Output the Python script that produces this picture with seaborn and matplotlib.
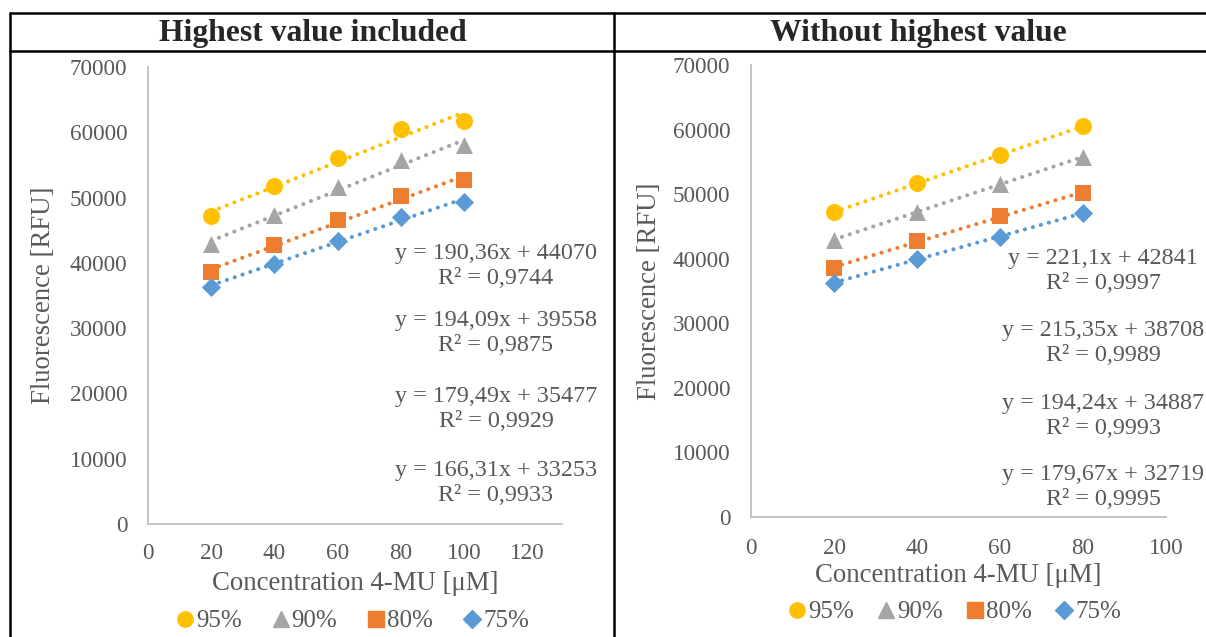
import numpy as np
import pandas as pd
import seaborn as sns
import matplotlib
matplotlib.use("Agg")
import matplotlib.pyplot as plt
from matplotlib.lines import Line2D

sns.set_style("white")
plt.rcParams['font.family'] = ['Liberation Serif', 'DejaVu Serif']

# ---- data ----
concentration = [20, 40, 60, 80, 100]
series_names = ["95%", "90%", "80%", "75%"]
fluor_95 = [47200, 51700, 56100, 60500, 61800]
fluor_90 = [42900, 47300, 51600, 55700, 58000]
fluor_80 = [38600, 42700, 46600, 50200, 52700]
fluor_75 = [36300, 39900, 43400, 47100, 49300]

eq_left = ["y = 190,36x + 44070\nR² = 0,9744",
           "y = 194,09x + 39558\nR² = 0,9875",
           "y = 179,49x + 35477\nR² = 0,9929",
           "y = 166,31x + 33253\nR² = 0,9933"]
eq_right = ["y = 221,1x + 42841\nR² = 0,9997",
            "y = 215,35x + 38708\nR² = 0,9989",
            "y = 194,24x + 34887\nR² = 0,9993",
            "y = 179,67x + 32719\nR² = 0,9995"]

titles = ["Highest value included", "Without highest value"]
xlabel = "Concentration 4-MU [μM]"
ylabel = "Fluorescence [RFU]"
yticks = [0, 10000, 20000, 30000, 40000, 50000, 60000, 70000]
xticks_left = [0, 20, 40, 60, 80, 100, 120]
xticks_right = [0, 20, 40, 60, 80, 100]

colors = ["#FFC000", "#A5A5A5", "#ED7D31", "#5B9BD5"]
markers = ["o", "^", "s", "D"]
msizes = [150, 150, 120, 95]

rows = []
for name, vals in zip(series_names, [fluor_95, fluor_90, fluor_80, fluor_75]):
    for c, v in zip(concentration, vals):
        rows.append({"conc": c, "fluor": v, "series": name})
df = pd.DataFrame(rows)
df_right = df[df["conc"] < max(concentration)]

fig = plt.figure(figsize=(12.06, 6.37), dpi=100)
W, H = 1206, 637

def fx(px):
    return px / W

def fy(py):
    return 1 - py / H

# table borders
for (x0, y0, x1, y1) in [(10, 13, 1206, 13), (10, 51, 1206, 51),
                         (10, 13, 10, 637), (614, 13, 614, 637)]:
    fig.add_artist(Line2D([fx(x0), fx(x1)], [fy(y0), fy(y1)], color="black", lw=1.8))

fig.text(fx(313), fy(33), titles[0], ha="center", va="center", fontsize=22.8, fontweight="bold")
fig.text(fx(918), fy(33), titles[1], ha="center", va="center", fontsize=22.8, fontweight="bold")

gray_txt = "#595959"

def draw(box, data, xlim, xticks, eqs, eq_cx, eq_cys, leg_cx, leg_cy, colsp,
         xlab_cy, ylab_cx, xpad):
    left, top, right, bottom = box
    ax = fig.add_axes([fx(left), fy(bottom), fx(right) - fx(left), fy(top) - fy(bottom)])

    def ax_x(px):
        return (px - left) / (right - left)

    def ax_y(py):
        return (bottom - py) / (bottom - top)

    for name, col, mk, ms in zip(series_names, colors, markers, msizes):
        sub = data[data["series"] == name]
        sns.regplot(data=sub, x="conc", y="fluor", ax=ax, scatter=False, ci=None,
                    line_kws=dict(color=col, lw=2.9, linestyle=(0, (0.05, 2.0)),
                                  dash_capstyle="round"))
        sns.scatterplot(data=sub, x="conc", y="fluor", ax=ax, color=col, marker=mk,
                        s=ms, edgecolor=col, linewidth=0, zorder=5)
    ax.set_xlim(*xlim)
    ax.set_ylim(0, 70000)
    ax.set_xticks(xticks)
    ax.set_yticks(yticks)
    ax.tick_params(length=0, labelsize=16.7, colors=gray_txt)
    ax.tick_params(axis="y", pad=15)
    ax.tick_params(axis="x", pad=xpad)
    for s in ["top", "right"]:
        ax.spines[s].set_visible(False)
    for s in ["left", "bottom"]:
        ax.spines[s].set_color("#BFBFBF")
        ax.spines[s].set_linewidth(1.3)
    ax.set_xlabel("")
    ax.set_ylabel("")
    ax.text(ax_x(ylab_cx), 0.5, ylabel, transform=ax.transAxes, ha="center", va="center",
            rotation=90, fontsize=19.3, color=gray_txt)
    ax.text(0.5, ax_y(xlab_cy), xlabel, transform=ax.transAxes, ha="center", va="center",
            fontsize=19.3, color=gray_txt)
    for eq, ey in zip(eqs, eq_cys):
        ax.text(ax_x(eq_cx), ax_y(ey), eq, transform=ax.transAxes, ha="center", va="center",
                multialignment="center", fontsize=17.4, color=gray_txt, linespacing=1.28)
    handles = [Line2D([], [], marker=mk, color=col, linestyle="none",
                      markersize=11 if mk != "D" else 9.5)
               for col, mk in zip(colors, markers)]
    ax.legend(handles, series_names, loc="center", bbox_to_anchor=(ax_x(leg_cx), ax_y(leg_cy)),
              ncol=4, frameon=False, fontsize=18, handletextpad=0.05, columnspacing=colsp,
              labelcolor=gray_txt, handlelength=0.8, borderpad=0, borderaxespad=0)
    return ax

draw((148, 67, 562, 524), df, (0, 131), xticks_left, eq_left,
     496, (266, 333, 409, 483), 352, 621, 1.15, 584, 44, 14)
draw((751, 65, 1166, 517), df_right, (0, 100), xticks_right, eq_right,
     1103, (271, 343, 416, 487), 954, 612, 0.88, 576, 650, 15)

fig.savefig("out.png", dpi=100)
